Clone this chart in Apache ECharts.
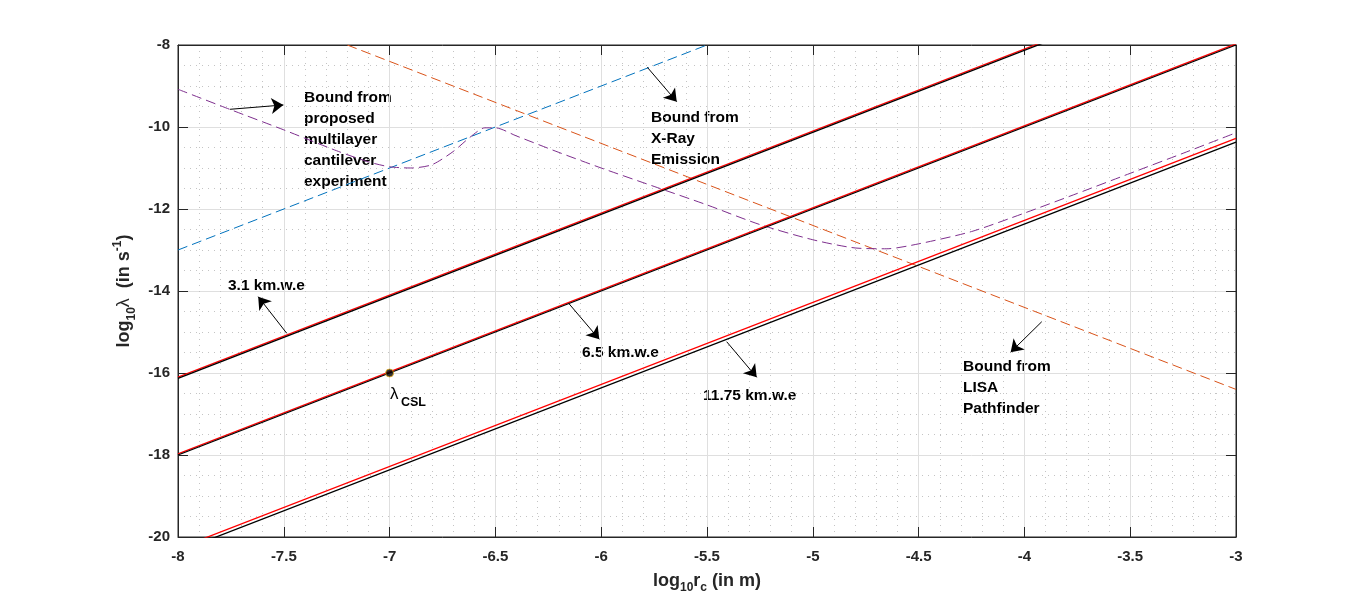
<!DOCTYPE html>
<html>
<head>
    <meta charset="utf-8">
    <title>CSL bounds</title>
    <script src="https://cdn.jsdelivr.net/npm/echarts@6/dist/echarts.min.js"></script>
    <style>
        html, body {margin:0; padding:0; background:#fff;}
    </style>
</head>
<body>
    <div id="main" style="width:1366px;height:604px;"></div>
    <script type="text/javascript">
        // data
        var xTicks = [-8, -7.5, -7, -6.5, -6, -5.5, -5, -4.5, -4, -3.5, -3];
        var yTicks = [-20, -18, -16, -14, -12, -10, -8];

        // depth lines, y at x = -8 and x = -3
        var xEnds = [-8, -3];
        var black31 = [-16.13, -6.13];
        var red31 = [-16.10, -6.10];
        var black65 = [-18.00, -8.00];
        var red65 = [-17.97, -7.97];
        var black1175 = [-20.36, -10.37];
        var red1175 = [-20.28, -10.28];

        // dashed bounds
        var blueX = [-8, -5.5];
        var blueY = [-13, -8];
        var xrayX = [-7.2, -3];
        var xrayY = [-8, -16.4];
        var cantX = [-8, -7.75, -7.5, -7.25, -7.1, -7.0, -6.9, -6.8, -6.7, -6.62, -6.55, -6.5, -6.4, -6.2, -6.0,
                     -5.75, -5.5, -5.25, -5.0, -4.8, -4.65, -4.5, -4.25, -4.0, -3.75, -3.5, -3.25, -3.0];
        var cantY = [-9.08, -9.58, -10.07, -10.58, -10.85, -10.97, -11.0, -10.92, -10.6, -10.25, -10.02, -10.02, -10.22, -10.62, -11.0,
                     -11.45, -11.9, -12.38, -12.75, -12.95, -12.97, -12.85, -12.55, -12.1, -11.62, -11.13, -10.64, -10.14];

        var lambdaCSL = [-7, -16];

        var FONT = '"Liberation Sans", Arial, sans-serif';
        var AX = '#262626';

        function pairs(xs, ys) {
            var out = [];
            for (var i = 0; i < xs.length; i++) out.push([xs[i], ys[i]]);
            return out;
        }

        function lineSeries(xs, ys, color, width, dashed, smooth) {
            return {
                type: 'line',
                data: pairs(xs, ys),
                showSymbol: false,
                symbol: 'none',
                smooth: smooth || false,
                clip: true,
                silent: true,
                lineStyle: {color: color, width: width, type: dashed ? [10, 5] : 'solid'},
                z: dashed ? 2 : 3
            };
        }

        function arrow(x1, y1, x2, y2) {
            return [{coord: [x1, y1]}, {coord: [x2, y2]}];
        }

        var myChart = echarts.init(document.getElementById('main'));

        var option = {
            animation: false,
            backgroundColor: '#fff',
            grid: {left: 178, top: 45, width: 1058, height: 492, show: true, borderColor: AX, borderWidth: 1},
            xAxis: [{
                type: 'value', min: -8, max: -3, interval: 0.5, position: 'bottom',
                axisLine: {show: true, lineStyle: {color: AX}},
                axisTick: {show: true, inside: true, length: 10, lineStyle: {color: AX}},
                minorTick: {show: false, splitNumber: 5},
                axisLabel: {color: AX, fontFamily: FONT, fontWeight: 'bold', fontSize: 15, margin: 12},
                splitLine: {show: true, lineStyle: {color: '#dfdfdf', width: 1}},
                minorSplitLine: {show: true, lineStyle: {color: '#c4c4c4', width: 1, type: [1, 5]}},
                name: '{m|log}{s|10}{m|r}{s|c}{m| (in m)}',
                nameLocation: 'middle',
                nameGap: 31,
                nameTextStyle: {
                    rich: {
                        m: {fontFamily: FONT, fontWeight: 'bold', fontSize: 18, color: AX, lineHeight: 26},
                        s: {fontFamily: FONT, fontWeight: 'bold', fontSize: 12, color: AX, lineHeight: 13, verticalAlign: 'bottom'}
                    }
                }
            }, {
                type: 'value', min: -8, max: -3, interval: 0.5, position: 'top',
                axisLine: {show: true, lineStyle: {color: AX}},
                axisTick: {show: true, inside: true, length: 10, lineStyle: {color: AX}},
                axisLabel: {show: false},
                splitLine: {show: false}
            }],
            yAxis: [{
                type: 'value', min: -20, max: -8, interval: 2, position: 'left',
                axisLine: {show: true, lineStyle: {color: AX}},
                axisTick: {show: true, inside: true, length: 10, lineStyle: {color: AX}},
                minorTick: {show: false, splitNumber: 4},
                axisLabel: {color: AX, fontFamily: FONT, fontWeight: 'bold', fontSize: 15, margin: 8},
                splitLine: {show: true, lineStyle: {color: '#dfdfdf', width: 1}},
                minorSplitLine: {show: true, lineStyle: {color: '#c4c4c4', width: 1, type: [1, 5]}},
                name: '{m|log}{s|10}{g|λ}{m|  (in s}{p|-1}{m|)}',
                nameLocation: 'middle',
                nameGap: 34,
                nameRotate: 90,
                nameTextStyle: {
                    rich: {
                        m: {fontFamily: FONT, fontWeight: 'bold', fontSize: 18, color: AX, lineHeight: 26},
                        g: {fontFamily: FONT, fontWeight: 'normal', fontSize: 18, color: AX, lineHeight: 26},
                        s: {fontFamily: FONT, fontWeight: 'bold', fontSize: 12, color: AX, lineHeight: 13, verticalAlign: 'bottom'},
                        p: {fontFamily: FONT, fontWeight: 'bold', fontSize: 12, color: AX, lineHeight: 13, verticalAlign: 'top'}
                    }
                }
            }, {
                type: 'value', min: -20, max: -8, interval: 2, position: 'right',
                axisLine: {show: true, lineStyle: {color: AX}},
                axisTick: {show: true, inside: true, length: 10, lineStyle: {color: AX}},
                axisLabel: {show: false},
                splitLine: {show: false}
            }],
            series: [
                lineSeries(blueX, blueY, '#0072BD', 1, true),
                lineSeries(xrayX, xrayY, '#D95319', 1, true),
                lineSeries(cantX, cantY, '#7E2F8E', 1, true, 0.25),
                lineSeries(xEnds, red31, '#FF0000', 1.3, false),
                lineSeries(xEnds, black31, '#000000', 1.3, false),
                lineSeries(xEnds, red65, '#FF0000', 1.3, false),
                lineSeries(xEnds, black65, '#000000', 1.3, false),
                lineSeries(xEnds, red1175, '#FF0000', 1.3, false),
                lineSeries(xEnds, black1175, '#000000', 1.3, false),
                {
                    type: 'scatter',
                    data: [lambdaCSL],
                    symbol: 'circle',
                    symbolSize: 8,
                    silent: true,
                    z: 5,
                    itemStyle: {color: '#000', borderColor: '#EDB120', borderWidth: 1},
                    markLine: {
                        silent: true,
                        symbol: ['none', 'arrow'],
                        symbolSize: 12,
                        label: {show: false},
                        lineStyle: {color: '#000', width: 1, type: 'solid'},
                        data: [
                            arrow(-7.754, -9.568, -7.502, -9.463),
                            arrow(-5.782, -8.544, -5.643, -9.383),
                            arrow(-7.486, -15.032, -7.621, -14.139),
                            arrow(-6.151, -14.317, -6.009, -15.178),
                            arrow(-5.407, -15.237, -5.265, -16.105),
                            arrow(-3.918, -14.749, -4.065, -15.495)
                        ]
                    }
                }
            ],
            graphic: [
                {type: 'text', x: 304, y: 87, style: {text: 'Bound from\nproposed\nmultilayer\ncantilever\nexperiment', fill: '#000', fontFamily: FONT, fontWeight: 'bold', fontSize: 15.5, lineHeight: 21}},
                {type: 'text', x: 651, y: 107, style: {text: 'Bound from\nX-Ray\nEmission', fill: '#000', fontFamily: FONT, fontWeight: 'bold', fontSize: 15.5, lineHeight: 21}},
                {type: 'text', x: 963, y: 356, style: {text: 'Bound from\nLISA\nPathfinder', fill: '#000', fontFamily: FONT, fontWeight: 'bold', fontSize: 15.5, lineHeight: 21}},
                {type: 'text', x: 228, y: 275, style: {text: '3.1 km.w.e', fill: '#000', fontFamily: FONT, fontWeight: 'bold', fontSize: 15.5, lineHeight: 21}},
                {type: 'text', x: 582, y: 342, style: {text: '6.5 km.w.e', fill: '#000', fontFamily: FONT, fontWeight: 'bold', fontSize: 15.5, lineHeight: 21}},
                {type: 'text', x: 703, y: 385, style: {text: '11.75 km.w.e', fill: '#000', fontFamily: FONT, fontWeight: 'bold', fontSize: 15.5, lineHeight: 21}},
                {type: 'text', x: 390, y: 384, style: {text: 'λ', fill: '#000', fontFamily: FONT, fontSize: 17, lineHeight: 21}},
                {type: 'text', x: 401, y: 395, style: {text: 'CSL', fill: '#000', fontFamily: FONT, fontWeight: 'bold', fontSize: 12.5, lineHeight: 16}}
            ]
        };

        myChart.setOption(option);
    </script>
</body>
</html>
